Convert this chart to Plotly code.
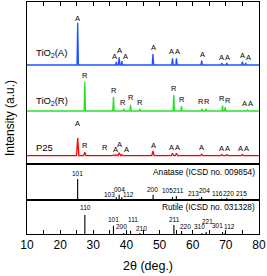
import plotly.graph_objects as go

# ---------------- data ----------------
# Top panel: XRD patterns (positions in 2theta, heights in a.u. above each baseline)
anatase_pos = [25.3, 36.95, 37.8, 38.6, 48.0, 53.9, 55.1, 62.7, 68.8, 70.3, 75.0, 76.0]
anatase_h   = [42.3, 3.0, 7.7, 4.0, 11.0, 6.7, 6.7, 4.3, 2.0, 2.0, 3.3, 2.0]
rutile_pos  = [27.45, 36.1, 39.2, 41.25, 44.05, 54.3, 56.6, 62.75, 64.05, 69.0, 69.8, 76.5]
rutile_h    = [29.3, 14.0, 2.0, 6.3, 2.0, 16.3, 5.0, 2.3, 2.3, 5.7, 4.0, 1.0]
p25_pos     = [25.3, 27.45, 36.1, 36.95, 37.8, 38.6, 48.0, 53.9, 55.1, 62.7, 68.8, 70.3, 75.0]
p25_h       = [17.6, 3.4, 0.8, 1.0, 3.0, 1.0, 4.7, 2.4, 2.4, 1.5, 1.0, 1.0, 1.0]
baselines   = {"A": 99.0, "R": 53.0, "P25": 8.3}

# peak letter labels (2theta, intensity)
a_lab_x = [25.2, 36.4, 37.8, 39.7, 48.1, 53.7, 55.3, 62.9, 68.7, 70.6, 75.0, 76.7]
a_lab_y = [145.7, 107.3, 114.0, 107.3, 116.5, 112.3, 112.3, 110.0, 106.7, 106.7, 108.3, 106.3]
a_lab_t = ["A"] * 12
r_lab_x = [27.6, 36.3, 39.1, 41.4, 44.1, 54.4, 56.8, 62.4, 64.3, 68.7, 70.5, 75.7, 77.4]
r_lab_y = [89.0, 73.7, 62.0, 67.0, 62.0, 76.0, 64.3, 62.7, 62.7, 65.3, 63.3, 60.3, 60.3]
r_lab_t = ["R"] * 11 + ["A", "A"]
p_lab_x = [25.2, 27.6, 33.4, 36.6, 37.9, 39.9, 48.1, 53.6, 55.3, 62.7, 68.7, 70.4, 74.4, 76.1]
p_lab_y = [40.7, 18.3, 16.7, 15.0, 20.0, 15.0, 18.3, 16.3, 16.3, 16.3, 15.7, 15.7, 15.7, 15.7]
p_lab_t = ["A", "R", "R", "A", "A", "A", "A", "A", "A", "A", "A", "A", "A", "A"]

series_names = ["TiO<sub>2</sub>(A)", "TiO<sub>2</sub>(R)", "P25"]
series_name_y = [111.0, 63.3, 16.7]
series_name_x = 12.2

# Reference stick patterns
anatase_ref_pos = [25.28, 36.95, 37.8, 38.58, 48.05, 53.89, 55.06, 62.12, 62.69, 68.76, 70.31, 75.03]
anatase_ref_h   = [21.0, 2.7, 5.3, 2.7, 5.3, 3.0, 4.0, 1.5, 3.0, 1.5, 2.0, 1.5]
anatase_ref_lab = ["101", "103", "004", "112", "200", "105", "211", "213", "204", "116", "220", "215"]
anatase_lab_x   = [25.2, 34.9, 37.8, 40.6, 47.9, 52.3, 55.6, 60.1, 63.7, 67.5, 70.7, 74.8]
anatase_lab_y   = [27.0, 5.3, 11.0, 5.3, 11.0, 10.0, 10.0, 6.7, 9.3, 6.7, 6.7, 6.7]

rutile_ref_pos = [27.45, 36.09, 39.19, 41.25, 44.05, 54.32, 56.64, 62.75, 64.05, 69.0, 69.8]
rutile_ref_h   = [19.0, 8.3, 1.0, 3.3, 1.0, 9.0, 3.0, 1.0, 2.0, 2.0, 1.0]
rutile_ref_lab = ["110", "101", "200", "111", "210", "211", "220", "310", "221", "301", "112"]
rutile_lab_x   = [27.6, 36.1, 38.4, 41.9, 44.4, 54.4, 57.9, 61.9, 64.5, 67.4, 71.2]
rutile_lab_y   = [26.7, 15.0, 7.3, 14.3, 6.0, 15.0, 7.7, 7.7, 12.7, 8.3, 7.7]

anatase_card = "Anatase (ICSD no. 009854)"
rutile_card = "Rutile (ICSD no. 031328)"

x_tickvals = [10, 20, 30, 40, 50, 60, 70, 80]
x_ticktext = ["10", "20", "30", "40", "50", "60", "70", "80"]
x_all_ticks = [10, 15, 20, 25, 30, 35, 40, 45, 50, 55, 60, 65, 70, 75, 80]

# ---------------- helpers ----------------
def profile(pos, h, base, w):
    xs, ys = [10.0], [base]
    for p, hh in sorted(zip(pos, h)):
        xs += [p - w, p, p + w]
        ys += [base, base + hh, base]
    xs.append(80.0)
    ys.append(base)
    return xs, ys

def sticks(pos, h):
    xs, ys = [], []
    for p, hh in zip(pos, h):
        xs += [p, p, None]
        ys += [0, hh, None]
    return xs, ys

FONT = "Arial, Liberation Sans, sans-serif"
BLUE = "rgb(30,80,255)"
GREEN = "rgb(40,225,40)"
RED = "rgb(255,0,0)"

fig = go.Figure()

for pos, h, base, col, w in [
    (anatase_pos, anatase_h, baselines["A"], BLUE, 0.22),
    (rutile_pos, rutile_h, baselines["R"], GREEN, 0.22),
    (p25_pos, p25_h, baselines["P25"], RED, 0.35),
]:
    xs, ys = profile(pos, h, base, w)
    fig.add_trace(go.Scatter(x=xs, y=ys, mode="lines", line=dict(color=col, width=1.3),
                             xaxis="x", yaxis="y", showlegend=False, hoverinfo="skip"))

xs, ys = sticks(anatase_ref_pos, anatase_ref_h)
fig.add_trace(go.Scatter(x=xs, y=ys, mode="lines", line=dict(color="black", width=1.1),
                         xaxis="x2", yaxis="y2", showlegend=False, hoverinfo="skip"))
xs, ys = sticks(rutile_ref_pos, rutile_ref_h)
fig.add_trace(go.Scatter(x=xs, y=ys, mode="lines", line=dict(color="black", width=1.1),
                         xaxis="x3", yaxis="y3", showlegend=False, hoverinfo="skip"))

ann = []
for lx, ly, lt in [(a_lab_x, a_lab_y, a_lab_t), (r_lab_x, r_lab_y, r_lab_t), (p_lab_x, p_lab_y, p_lab_t)]:
    for x, y, t in zip(lx, ly, lt):
        ann.append(dict(x=x, y=y, xref="x", yref="y", text=t, showarrow=False,
                        font=dict(family=FONT, size=7.5, color="black"),
                        xanchor="center", yanchor="middle"))
for name, y in zip(series_names, series_name_y):
    ann.append(dict(x=series_name_x, y=y, xref="x", yref="y", text=name, showarrow=False,
                    font=dict(family=FONT, size=9.5, color="black"),
                    xanchor="left", yanchor="middle"))
for x, y, t in zip(anatase_lab_x, anatase_lab_y, anatase_ref_lab):
    ann.append(dict(x=x, y=y, xref="x2", yref="y2", text=t, showarrow=False,
                    font=dict(family=FONT, size=6.5, color="black"),
                    xanchor="center", yanchor="middle"))
for x, y, t in zip(rutile_lab_x, rutile_lab_y, rutile_ref_lab):
    ann.append(dict(x=x, y=y, xref="x3", yref="y3", text=t, showarrow=False,
                    font=dict(family=FONT, size=6.5, color="black"),
                    xanchor="center", yanchor="middle"))
ann.append(dict(x=0.99, y=28.0, xref="paper", yref="y2", text=anatase_card, showarrow=False,
                font=dict(family=FONT, size=8.3, color="black"), xanchor="right", yanchor="middle"))
ann.append(dict(x=0.99, y=26.7, xref="paper", yref="y3", text=rutile_card, showarrow=False,
                font=dict(family=FONT, size=8.3, color="black"), xanchor="right", yanchor="middle"))
ann.append(dict(x=-0.073, y=0.50, xref="paper", yref="paper", text="Intensity (a.u.)",
                showarrow=False, textangle=-90, font=dict(family=FONT, size=12, color="black"),
                xanchor="center", yanchor="middle"))
ann.append(dict(x=0.52, y=-0.14, xref="paper", yref="paper", text="2θ (deg.)",
                showarrow=False, font=dict(family=FONT, size=12.5, color="black"),
                xanchor="center", yanchor="middle"))

top_dom = [70 / 232, 1.0]
mid_dom = [34 / 232, 70 / 232]
bot_dom = [0.0, 34 / 232]

common_x = dict(range=[10, 80], showgrid=False, zeroline=False, showline=True,
                linecolor="black", linewidth=1, mirror=True)
common_y = dict(showgrid=False, zeroline=False, showline=True, linecolor="black",
                linewidth=1, mirror=True, ticks="", showticklabels=False, fixedrange=True)

fig.update_layout(
    width=267, height=276,
    margin=dict(l=27, r=8, t=2, b=42),
    paper_bgcolor="white", plot_bgcolor="white",
    showlegend=False,
    annotations=ann,
    xaxis=dict(**common_x, anchor="y", domain=[0, 1], side="top", ticks="inside",
               tickvals=x_all_ticks, ticklen=4, tickcolor="black", showticklabels=False),
    xaxis2=dict(**common_x, anchor="y2", domain=[0, 1], ticks="", showticklabels=False),
    xaxis3=dict(**common_x, anchor="y3", domain=[0, 1], side="bottom", ticks="inside",
                tickvals=x_tickvals, ticktext=x_ticktext, ticklen=4, tickcolor="black",
                tickfont=dict(family=FONT, size=12, color="black"),
                minor=dict(tickvals=x_all_ticks, ticks="inside", ticklen=4, tickcolor="black")),
    yaxis=dict(**common_y, anchor="x", domain=top_dom, range=[0, 162]),
    yaxis2=dict(**common_y, anchor="x2", domain=mid_dom, range=[0, 36]),
    yaxis3=dict(**common_y, anchor="x3", domain=bot_dom, range=[0, 34]),
)

fig.write_html("out.html", config={"displayModeBar": False},
               post_script="document.body.style.margin='0';")
